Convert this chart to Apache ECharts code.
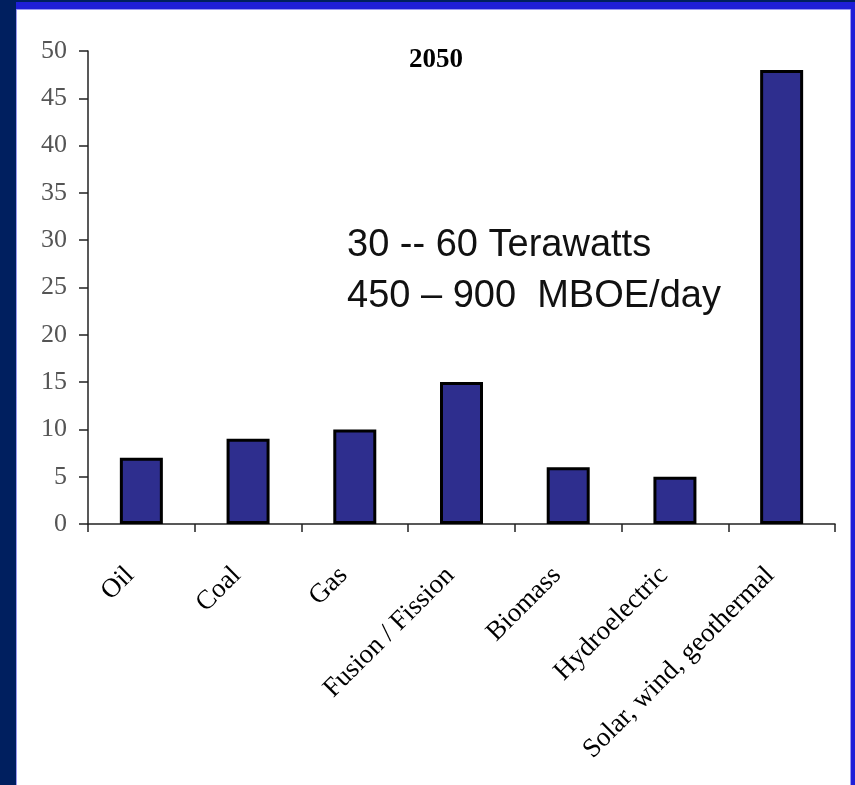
<!DOCTYPE html>
<html>
<head>
<meta charset="utf-8">
<title>2050</title>
<script src="https://cdn.jsdelivr.net/npm/echarts@6/dist/echarts.min.js"></script>
<style>
  html, body { margin: 0; padding: 0; background: #001f5f; }
  #chart { width: 855px; height: 785px; }
</style>
</head>
<body>
<div id="chart"></div>
<script>
// Energy sources projected for 2050
const categories = ['Oil', 'Coal', 'Gas', 'Fusion / Fission', 'Biomass', 'Hydroelectric', 'Solar, wind, geothermal'];
const values = [7, 9, 10, 15, 6, 5, 48];
const yTicks = [0, 5, 10, 15, 20, 25, 30, 35, 40, 45, 50];
const titleText = '2050';
const noteLines = ['30 -- 60 Terawatts', '450 \u2013 900  MBOE/day'];

const chart = echarts.init(document.getElementById('chart'), null, { renderer: 'canvas' });

const serif = '"Liberation Serif", "Times New Roman", serif';
const sans = '"Liberation Sans", Arial, sans-serif';

chart.setOption({
  animation: false,
  backgroundColor: '#001f5f',
  title: {
    text: titleText,
    left: 404,
    top: 42,
    textStyle: { fontFamily: serif, fontWeight: 'bold', fontSize: 27, color: '#000' }
  },
  graphic: [
    // slide frame: blue band and white panel
    { type: 'rect', z: -20, silent: true, shape: { x: 16, y: 2, width: 839, height: 783 }, style: { fill: '#1f1fd8' } },
    { type: 'rect', z: -19, silent: true, shape: { x: 16.5, y: 9.5, width: 834, height: 780 }, style: { fill: '#fff', stroke: '#9a9af0', lineWidth: 1 } },
    {
      type: 'text', z: 10, x: 347, y: 246,
      style: { text: noteLines[0], font: '38px ' + sans, fill: '#111', textVerticalAlign: 'middle' }
    },
    {
      type: 'text', z: 10, x: 347, y: 297,
      style: { text: noteLines[1], font: '38px ' + sans, fill: '#111', textVerticalAlign: 'middle' }
    }
  ],
  grid: { left: 88, right: 20, top: 51, bottom: 261, containLabel: false },
  xAxis: {
    type: 'category',
    data: categories,
    axisLine: { show: true, lineStyle: { color: '#222', width: 1.5 } },
    axisTick: { show: true, alignWithLabel: false, length: 8, lineStyle: { color: '#222', width: 1.5 } },
    axisLabel: {
      interval: 0,
      rotate: 45,
      margin: 36,
      padding: [0, 16, 0, 0],
      fontFamily: serif,
      fontSize: 27,
      color: '#000'
    }
  },
  yAxis: {
    type: 'value',
    min: yTicks[0],
    max: yTicks[yTicks.length - 1],
    interval: yTicks[1] - yTicks[0],
    splitLine: { show: false },
    axisLine: { show: true, lineStyle: { color: '#222', width: 1.5 } },
    axisTick: { show: true, length: 9, lineStyle: { color: '#222', width: 1.5 } },
    axisLabel: {
      margin: 21,
      fontFamily: serif,
      fontSize: 26,
      color: '#555'
    }
  },
  series: [{
    type: 'bar',
    data: values,
    barWidth: 43,
    itemStyle: { color: '#2e2e8e', borderColor: '#000', borderWidth: 3 }
  }]
});
</script>
</body>
</html>
